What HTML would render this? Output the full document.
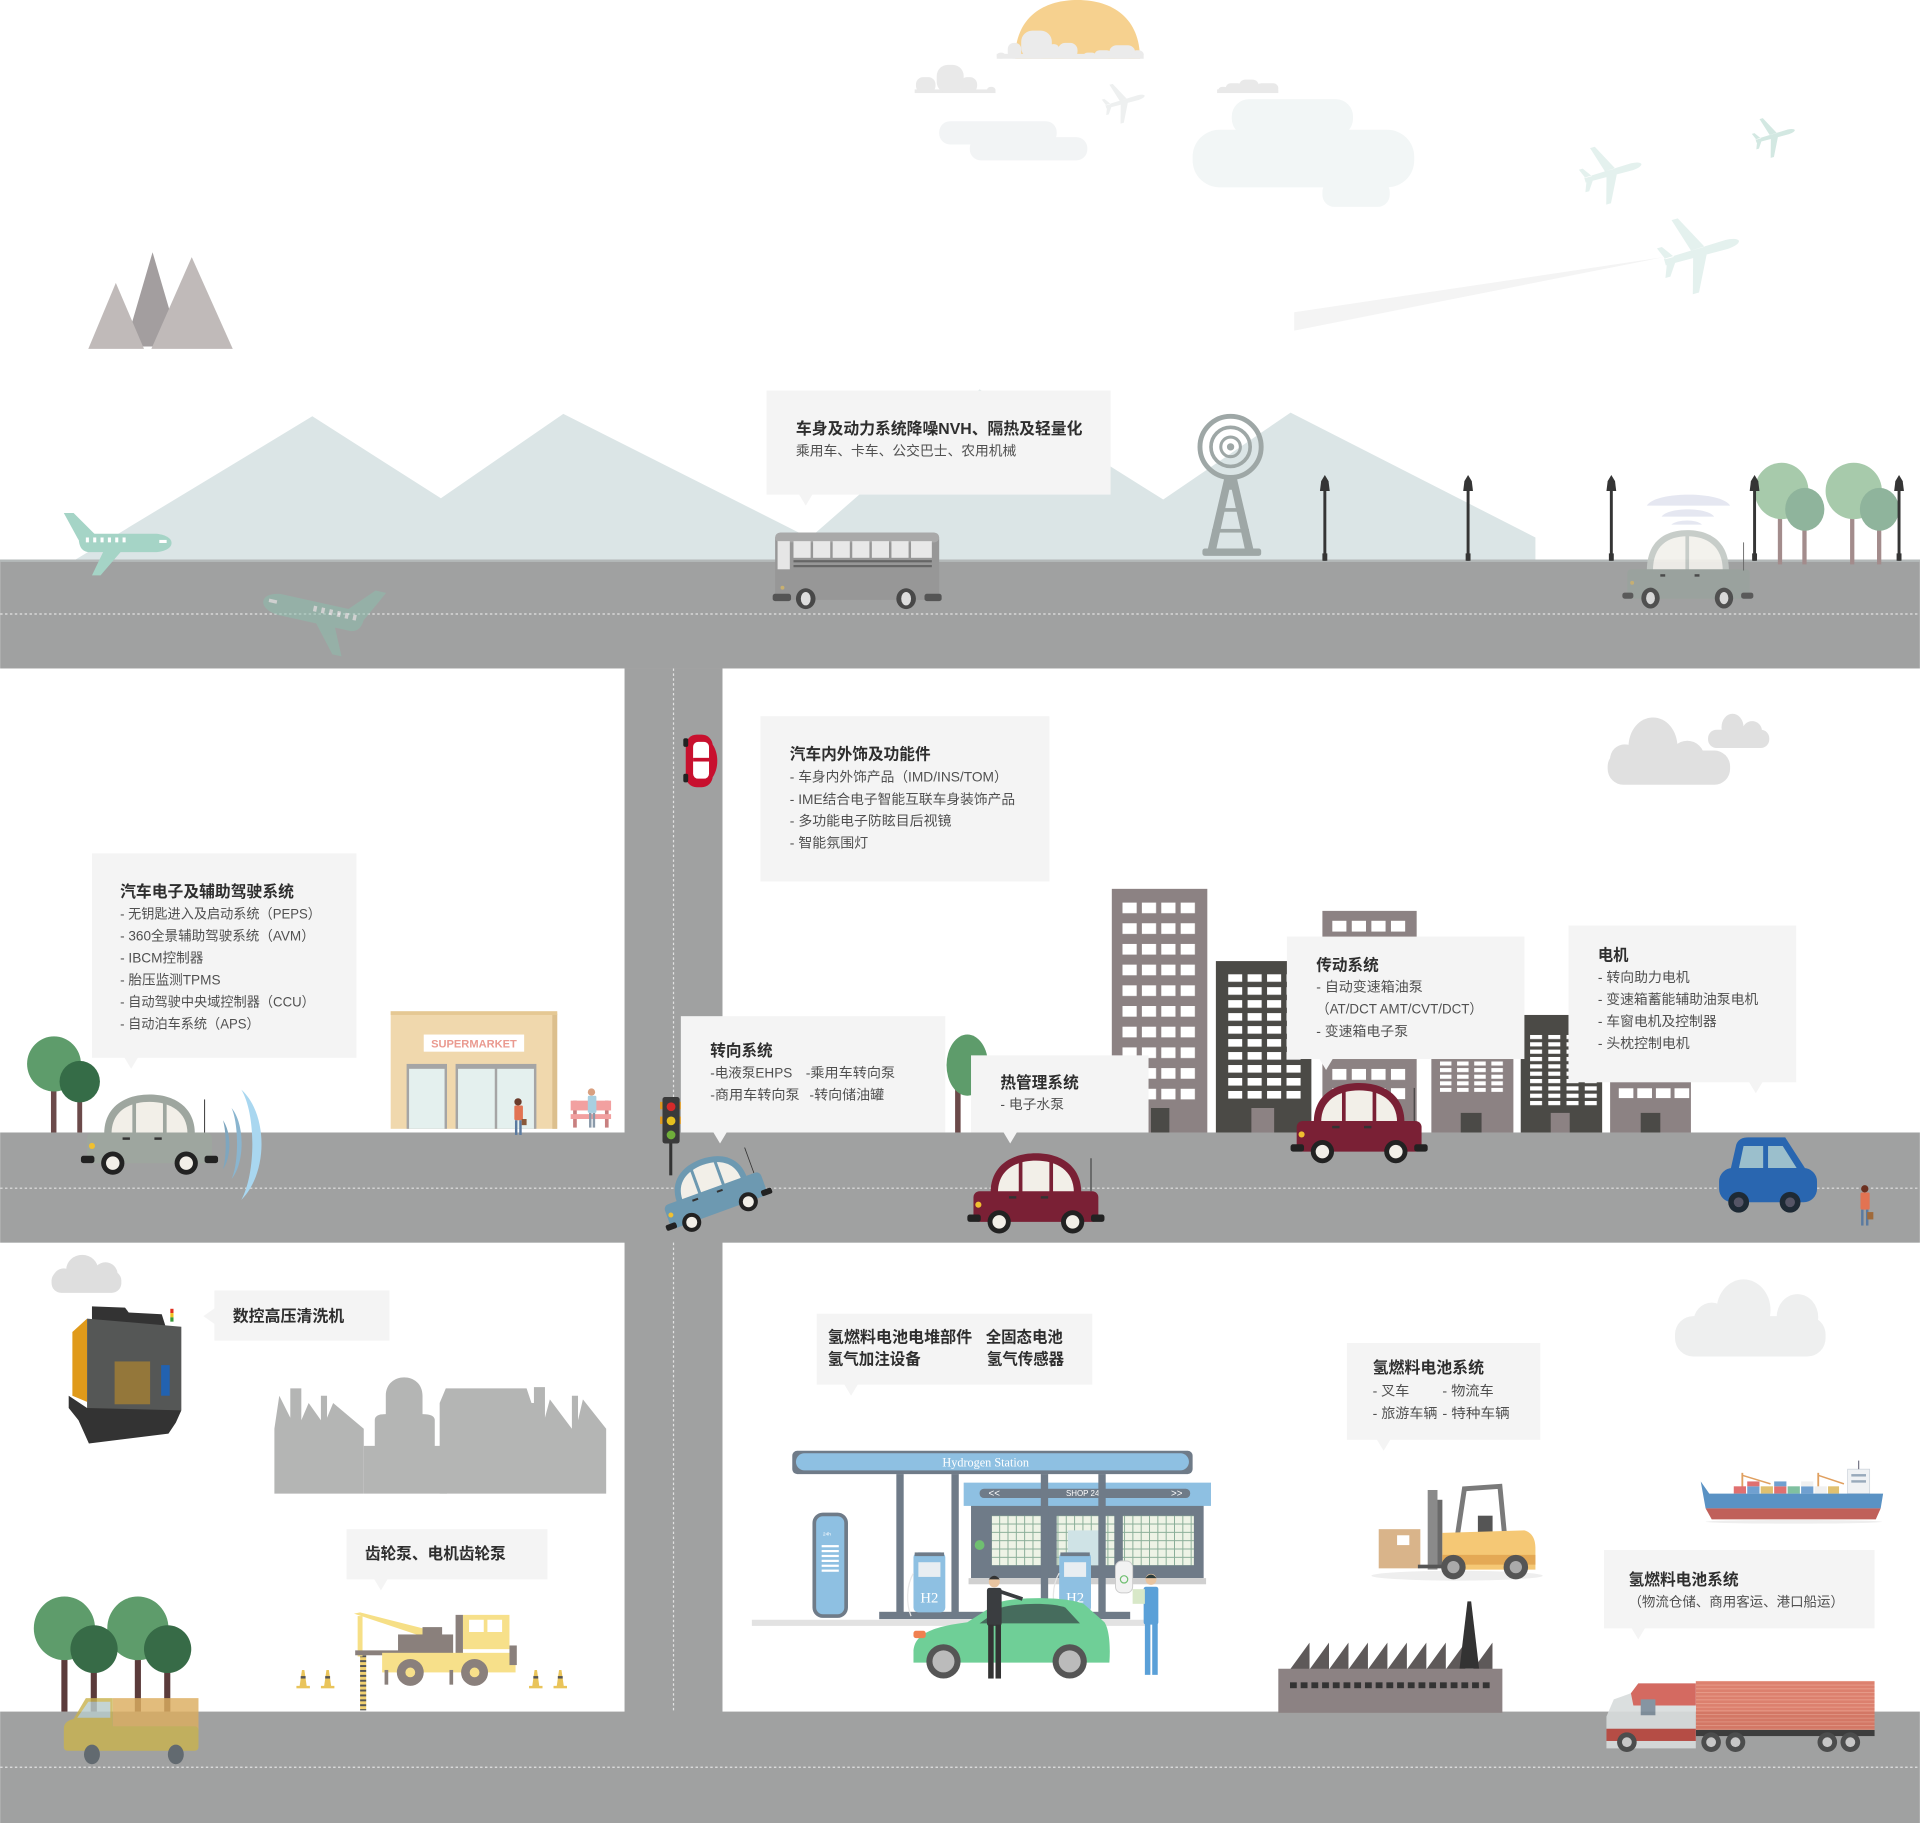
<!DOCTYPE html>
<html><head><meta charset="utf-8"><style>
html,body{margin:0;padding:0;background:#fff;overflow:hidden;}
svg{display:block;}
text{font-family:"Liberation Sans","Noto Sans CJK SC",sans-serif;}
.t{font-size:13px;font-weight:bold;fill:#2e2e2e;}
.s{font-size:11.3px;fill:#505050;}
.bx{fill:#f4f4f4;}
</style></head><body>
<svg width="1920" height="1823" viewBox="0 0 1568 1489" xmlns="http://www.w3.org/2000/svg" xmlns:xlink="http://www.w3.org/1999/xlink">
<defs>
 <path id="pl" d="M-28,-2.6 L22,-3.6 Q31,-3 32,0 Q31,3 22,3.6 L-28,2.6 Z M5,-3 L-9,-30 L-14,-30 L-6,-3 Z M5,3 L-9,30 L-14,30 L-6,3 Z M-20,-2 L-27,-12 L-31,-12 L-27,-2 Z M-20,2 L-27,12 L-31,12 L-27,2 Z"/>
 <g id="sideplane">
  <path d="M64,436 L128,436 C136,437 140,440 140,443.5 C140,447 136,450 128,451 L72,451 C66,450 64,446 64,436 Z"/>
  <polygon points="52,419 60,419 78,437 64,441"/>
  <polygon points="85,449 100,449 82,470 75,470"/>
  <g fill="#fff"><rect x="70" y="439" width="2.5" height="4"/><rect x="76" y="439" width="2.5" height="4"/><rect x="82" y="439" width="2.5" height="4"/><rect x="88" y="439" width="2.5" height="4"/><rect x="94" y="439" width="2.5" height="4"/><rect x="100" y="439" width="2.5" height="4"/><rect x="130" y="441" width="6" height="2.5"/></g>
 </g>
 <g id="car">
  <path d="M-37,-30 C-37,-52 -20,-62 0,-62 C20,-62 37,-52 37,-30 Z" fill="currentColor"/>
  <path d="M-31,-30 C-31,-48 -17,-56 0,-56 C17,-56 31,-48 31,-30 Z" fill="#f2efe8"/>
  <rect x="-14" y="-57" width="3" height="27" fill="currentColor"/>
  <rect x="11" y="-57" width="3" height="27" fill="currentColor"/>
  <rect x="-51" y="-31" width="102" height="25" rx="5" fill="currentColor"/>
  <rect x="-22" y="-27" width="6" height="2" fill="#333"/>
  <rect x="4" y="-27" width="6" height="2" fill="#333"/>
  <circle cx="-47" cy="-20" r="2.5" fill="#f0c030"/>
  <line x1="45" y1="-58" x2="45" y2="-31" stroke="#333" stroke-width="0.8"/>
  <rect x="-56" y="-12" width="11" height="6" rx="2" fill="#222"/>
  <rect x="45" y="-12" width="11" height="6" rx="2" fill="#222"/>
  <circle cx="-30" cy="-6" r="9.5" fill="#222"/>
  <circle cx="-30" cy="-6" r="5.5" fill="#f2efe8"/>
  <circle cx="30" cy="-6" r="9.5" fill="#222"/>
  <circle cx="30" cy="-6" r="5.5" fill="#f2efe8"/>
 </g>
 <pattern id="w1" x="916.7" y="737.2" width="15.85" height="16.9" patternUnits="userSpaceOnUse"><rect width="11.6" height="8.7" fill="#fff"/></pattern>
 <pattern id="w2" x="1003" y="795.7" width="15.9" height="10.6" patternUnits="userSpaceOnUse"><rect width="11.5" height="6.2" fill="#fff"/></pattern>
 <pattern id="w3" x="1088" y="752" width="16" height="15.8" patternUnits="userSpaceOnUse"><rect width="11.6" height="9" fill="#fff"/></pattern>
 <pattern id="w3b" x="1088" y="873" width="16" height="15.8" patternUnits="userSpaceOnUse"><rect width="11.6" height="9" fill="#fff"/></pattern>
 <pattern id="w4" x="1176" y="867" width="14" height="5.4" patternUnits="userSpaceOnUse"><rect width="9.4" height="3.3" fill="#fff"/></pattern>
 <pattern id="w5" x="1249.6" y="845.3" width="14.9" height="6" patternUnits="userSpaceOnUse"><rect width="9.8" height="3.4" fill="#fff"/></pattern>
 <pattern id="w6" x="1322" y="888.8" width="15.2" height="20" patternUnits="userSpaceOnUse"><rect width="12" height="8.2" fill="#fff"/></pattern>
 <pattern id="wf" x="1053.5" y="1374" width="8.75" height="10" patternUnits="userSpaceOnUse"><rect width="5.6" height="5" fill="#333"/></pattern>
 <pattern id="wg" x="0" y="0" width="6.8" height="6.8" patternUnits="userSpaceOnUse"><rect x="0.8" y="0.8" width="6" height="6" fill="#eef3e6"/></pattern>
 <pattern id="drill" x="0" y="0" width="5" height="4" patternUnits="userSpaceOnUse"><rect width="5" height="4" fill="#f0d070"/><rect width="5" height="1.6" fill="#555"/></pattern>
 <pattern id="cont" x="0" y="1373" width="10" height="3" patternUnits="userSpaceOnUse"><rect width="10" height="3" fill="#d9735f"/><rect width="10" height="0.8" fill="#e5917d"/></pattern>
</defs>

<rect width="1568" height="1489" fill="#fff"/>

<!-- ===== SKY ===== -->
<path d="M829,48 C829,15 851,0 880,0 C909,0 931,15 931,48 Z" fill="#f6d18f"/>
<g fill="#ebebeb">
 <rect x="814" y="44" width="120" height="4"/>
 <rect x="814" y="43" width="7" height="5" rx="3"/>
 <rect x="823" y="35" width="11" height="13" rx="5"/>
 <rect x="834" y="25" width="25" height="23" rx="9"/>
 <rect x="856" y="36" width="9" height="12" rx="4"/>
 <rect x="864" y="35" width="16" height="13" rx="6"/>
 <rect x="885" y="43" width="10" height="5" rx="3"/>
 <rect x="894" y="41" width="14" height="7" rx="4"/>
 <rect x="906" y="37" width="21" height="11" rx="6"/>
 <rect x="924" y="41" width="10" height="7" rx="4"/>
</g>
<g fill="#e9e9e9">
 <rect x="747" y="73" width="66" height="3"/>
 <rect x="748" y="63" width="16" height="13" rx="6"/>
 <rect x="765" y="53" width="22" height="23" rx="9"/>
 <rect x="784" y="63" width="14" height="13" rx="6"/>
 <rect x="806" y="71" width="7" height="5" rx="3"/>
 <rect x="994" y="73" width="50" height="3"/>
 <rect x="995" y="71" width="8" height="5" rx="3"/>
 <rect x="1001" y="68" width="14" height="8" rx="4"/>
 <rect x="1012" y="65" width="16" height="11" rx="5"/>
 <rect x="1026" y="68" width="18" height="8" rx="4"/>
</g>
<g fill="#f2f4f5">
 <rect x="767" y="99" width="96" height="19" rx="9"/>
 <rect x="792" y="112" width="96" height="19" rx="9"/>
</g>
<g fill="#f2f6f6">
 <rect x="1006" y="81" width="99" height="30" rx="14"/>
 <rect x="974" y="106" width="181" height="47" rx="22"/>
 <rect x="1080" y="147" width="55" height="22" rx="10"/>
</g>
<polygon points="1057,255 1359,210 1057,270" fill="#f4f4f4"/>
<use xlink:href="#pl" href="#pl" transform="translate(1388,206) rotate(-16) scale(1.05)" fill="#e4f1ee"/>
<use xlink:href="#pl" href="#pl" transform="translate(1316,141) rotate(-16) scale(0.8)" fill="#e4f1ee"/>
<use xlink:href="#pl" href="#pl" transform="translate(1449,111) rotate(-16) scale(0.55)" fill="#d3e8e2"/>
<use xlink:href="#pl" href="#pl" transform="translate(918,83) rotate(-16) scale(0.55)" fill="#eef0f0"/>

<!-- gray peaks -->
<polygon points="102,283 124.5,206 147,283" fill="#a39e9f"/>
<polygon points="72,285 94.5,231 117.5,285" fill="#c0bab9"/>
<polygon points="123.5,285 156.5,210 190,285" fill="#c0bab9"/>

<!-- background mountains -->
<polygon points="60,458 255,340 360,407 460,338 698,458" fill="#dbe5e6"/>
<polygon points="640,458 800,318 907,381 950,408 1054,337 1254,439 1254,458" fill="#dbe5e6"/>

<!-- ===== ROADS ===== -->
<g fill="#a0a1a1">
 <rect x="0" y="457" width="1568" height="89"/>
 <rect x="510" y="546" width="80" height="853"/>
 <rect x="0" y="925" width="1568" height="90"/>
 <rect x="0" y="1398" width="1568" height="91"/>
</g>
<rect x="0" y="457" width="1568" height="2" fill="#b3b8b8"/>
<g stroke="#e2e2e2" stroke-width="1" stroke-dasharray="2 2" fill="none">
 <line x1="0" y1="501.5" x2="1568" y2="501.5"/>
 <line x1="0" y1="970.5" x2="1568" y2="970.5"/>
 <line x1="0" y1="1443.5" x2="1568" y2="1443.5"/>
 <line x1="550" y1="546" x2="550" y2="925"/>
 <line x1="550" y1="1015" x2="550" y2="1398"/>
</g>

<!-- ===== TOP ROAD OBJECTS ===== -->
<use xlink:href="#sideplane" href="#sideplane" fill="#a5d4c6"/>
<use xlink:href="#sideplane" href="#sideplane" transform="translate(262,503) scale(-1.1,1.15) rotate(-12) translate(-96,-445)" fill="#8cc0ae" opacity="0.5"/>

<!-- bus -->
<g>
 <rect x="633" y="435" width="134" height="55" rx="5" fill="#979797"/>
 <rect x="633" y="435" width="134" height="8" rx="4" fill="#a9a9a9"/>
 <rect x="635" y="442" width="10" height="23" fill="#e6e6e6"/>
 <g fill="#e8e8e8">
  <rect x="648" y="442" width="14" height="13.6"/><rect x="664" y="442" width="14" height="13.6"/><rect x="680" y="442" width="14" height="13.6"/><rect x="696" y="442" width="14" height="13.6"/><rect x="712" y="442" width="14" height="13.6"/><rect x="728" y="442" width="14" height="13.6"/><rect x="744" y="442" width="17" height="13.6"/>
 </g>
 <rect x="648" y="457.5" width="113" height="1.8" fill="#666"/>
 <rect x="648" y="461.5" width="113" height="1.8" fill="#666"/>
 <circle cx="639" cy="480" r="1.6" fill="#c8b070"/>
 <rect x="631" y="485" width="15" height="6" rx="2" fill="#555"/>
 <rect x="755" y="485" width="14" height="6" rx="2" fill="#555"/>
 <ellipse cx="658" cy="489" rx="8" ry="8.5" fill="#484848"/><ellipse cx="658" cy="489" rx="4" ry="5.5" fill="#ddd"/>
 <ellipse cx="740" cy="489" rx="8" ry="8.5" fill="#484848"/><ellipse cx="740" cy="489" rx="4" ry="5.5" fill="#ddd"/>
</g>

<!-- radio tower -->
<g fill="none" stroke="#9ea7a6">
 <circle cx="1005" cy="365" r="25" stroke-width="4"/>
 <circle cx="1005" cy="365" r="16" stroke-width="3"/>
 <circle cx="1005" cy="365" r="8" stroke-width="2.5"/>
</g>
<g fill="#9ea7a6">
 <circle cx="1005" cy="365" r="3"/>
 <polygon points="1000,390 1010,390 1024,450 1017,450 1006,400 1004,400 993,450 986,450"/>
 <rect x="995" y="415" width="20" height="3"/>
 <rect x="990" y="432" width="30" height="3"/>
 <rect x="982" y="448" width="48" height="6" rx="2"/>
</g>

<!-- right trees (faded) -->
<g fill="#a38c8c">
 <rect x="1452" y="420" width="3.5" height="41"/><rect x="1472" y="428" width="3.5" height="33"/>
 <rect x="1511" y="420" width="3.5" height="41"/><rect x="1533" y="428" width="3.5" height="33"/>
</g>
<ellipse cx="1455" cy="401" rx="22" ry="23" fill="#a7caab"/>
<ellipse cx="1474" cy="416" rx="16" ry="17.5" fill="#8fb49c"/>
<ellipse cx="1514" cy="401" rx="23" ry="23" fill="#a7caab"/>
<ellipse cx="1535" cy="416" rx="16" ry="17.5" fill="#8fb49c"/>

<!-- lamps -->
<g fill="#353535">
 <rect x="1080.8" y="398" width="2.4" height="60"/><path d="M1078,401 L1086,401 L1085,393 L1082,388 L1079,393 Z"/><rect x="1080" y="452" width="4" height="6"/>
 <rect x="1197.8" y="398" width="2.4" height="60"/><path d="M1195,401 L1203,401 L1202,393 L1199,388 L1196,393 Z"/><rect x="1197" y="452" width="4" height="6"/>
 <rect x="1314.8" y="398" width="2.4" height="60"/><path d="M1312,401 L1320,401 L1319,393 L1316,388 L1313,393 Z"/><rect x="1314" y="452" width="4" height="6"/>
 <rect x="1431.8" y="398" width="2.4" height="60"/><path d="M1429,401 L1437,401 L1436,393 L1433,388 L1430,393 Z"/><rect x="1431" y="452" width="4" height="6"/>
 <rect x="1549.8" y="398" width="2.4" height="60"/><path d="M1547,401 L1555,401 L1554,393 L1551,388 L1548,393 Z"/><rect x="1549" y="452" width="4" height="6"/>
</g>

<!-- right faded car -->
<g opacity="0.92">
 <path d="M1345,413 C1352,401 1406,401 1413,413 Z" fill="#e3e5f0"/>
 <path d="M1357,422 C1362,414 1395,414 1400,422 Z" fill="#e3e5f0"/>
 <path d="M1365,428.5 C1370,424 1386,424 1390,428.5 Z" fill="#e3e5f0"/>
 <path d="M1345,466 C1345,442 1360,433 1378,433 C1396,433 1412,442 1412,466 Z" fill="#c3c9c5"/>
 <path d="M1350,466 C1350,446 1362,438 1378,438 C1394,438 1407,446 1407,466 Z" fill="#f3f1ec"/>
 <rect x="1376.5" y="437" width="3" height="29" fill="#c3c9c5"/>
 <rect x="1329" y="465" width="100" height="24" rx="3" fill="#9aa39e"/>
 <line x1="1424" y1="443" x2="1424" y2="466" stroke="#666" stroke-width="0.8"/>
 <circle cx="1333" cy="476" r="1.6" fill="#c9b070"/>
 <rect x="1356" y="469" width="4" height="2" fill="#444"/><rect x="1384" y="469" width="4" height="2" fill="#444"/>
 <rect x="1325" y="484" width="9" height="5" rx="2" fill="#555"/>
 <rect x="1422" y="484" width="10" height="5" rx="2" fill="#555"/>
 <ellipse cx="1348" cy="488.5" rx="7.5" ry="8.5" fill="#4a4a4a"/><ellipse cx="1348" cy="488.5" rx="3.6" ry="5" fill="#ddd"/>
 <ellipse cx="1408" cy="488.5" rx="7.5" ry="8.5" fill="#4a4a4a"/><ellipse cx="1408" cy="488.5" rx="3.6" ry="5" fill="#ddd"/>
</g>

<!-- ===== MIDDLE SECTION ===== -->
<!-- red top car -->
<g>
 <rect x="560" y="600" width="22" height="43" rx="9" fill="#c8102e"/>
 <path d="M576,603 C589,609 589,634 576,640 Z" fill="#c8102e"/>
 <rect x="566" y="606" width="13" height="30" rx="4" fill="#fff"/>
 <rect x="566" y="619" width="13" height="3" fill="#c8102e"/>
 <rect x="558" y="603" width="4" height="7" rx="1.5" fill="#222"/>
 <rect x="558" y="632" width="4" height="7" rx="1.5" fill="#222"/>
</g>

<!-- gray cloud -->
<g fill="#e0e0e0">
 <rect x="1313" y="613" width="100" height="28" rx="13"/>
 <ellipse cx="1350" cy="610" rx="20" ry="24"/>
 <ellipse cx="1378" cy="619" rx="14" ry="14"/>
 <ellipse cx="1327" cy="620" rx="12" ry="12"/>
 <rect x="1395" y="596" width="50" height="15" rx="7"/>
 <ellipse cx="1415" cy="594" rx="9" ry="11"/>
 <ellipse cx="1431" cy="597" rx="8" ry="8"/>
</g>

<!-- left trees -->
<rect x="41.5" y="885" width="4.5" height="40" fill="#6b4a4a"/>
<rect x="63" y="895" width="4" height="30" fill="#6b4a4a"/>
<ellipse cx="44" cy="869" rx="22" ry="22.5" fill="#5e9c6b"/>
<ellipse cx="65" cy="883.5" rx="16.5" ry="17" fill="#356c47"/>

<!-- left gray car + waves -->
<use xlink:href="#car" href="#car" transform="translate(122,956)" style="color:#9ea69f"/>
<path d="M197,890 C219,910 219,958 197,980 C209,958 209,910 197,890 Z" fill="#a9d7f0"/>
<path d="M189,905 C200,918 200,950 189,963 C195,950 195,918 189,905 Z" fill="#8ab5cf"/>
<path d="M182,915 C189,925 189,945 182,955 C185,945 185,925 182,915 Z" fill="#7ea6bf"/>

<!-- supermarket -->
<rect x="319" y="826" width="136" height="96" fill="#f0d8ad"/>
<rect x="451" y="828" width="4" height="94" fill="#dcbf8d"/>
<rect x="319" y="826" width="136" height="3" fill="#e5c893"/>
<rect x="346" y="845" width="82" height="14" fill="#fff"/>
<text x="387" y="855.5" text-anchor="middle" style="font-size:9px;font-weight:bold;fill:#ea9a90;" textLength="70" lengthAdjust="spacingAndGlyphs">SUPERMARKET</text>
<rect x="332" y="869" width="33" height="53" fill="#a5a5a5"/>
<rect x="334" y="873" width="29" height="49" fill="#e4f0ee"/>
<rect x="372" y="869" width="66" height="53" fill="#a5a5a5"/>
<rect x="374" y="873" width="30" height="49" fill="#e4f0ee"/>
<rect x="406" y="873" width="30" height="49" fill="#e4f0ee"/>
<!-- person at door -->
<circle cx="423" cy="900" r="3" fill="#6b3b2b"/>
<rect x="420" y="903" width="7" height="12" rx="1" fill="#e27352"/>
<rect x="420.5" y="915" width="2" height="12" fill="#5a7aa0"/><rect x="424" y="915" width="2" height="12" fill="#5a7aa0"/>
<rect x="426" y="914" width="4" height="5" fill="#8a5a3a"/>
<!-- bench -->
<rect x="468" y="899" width="3" height="22" fill="#c88080"/><rect x="494" y="899" width="3" height="22" fill="#c88080"/>
<rect x="466" y="899" width="33" height="8" fill="#f2a0a0"/>
<rect x="466" y="910" width="33" height="4" fill="#f2a0a0"/>
<circle cx="483" cy="892" r="3" fill="#d9a080"/>
<rect x="480" y="895" width="7" height="14" rx="1" fill="#a8cfe0"/>
<rect x="481" y="909" width="2" height="12" fill="#8a9aaa"/><rect x="484" y="909" width="2" height="12" fill="#8a9aaa"/>

<!-- traffic light -->
<rect x="546.5" y="932" width="2.5" height="28" fill="#333"/>
<rect x="539" y="900" width="3" height="6" fill="#e09a20"/><rect x="554" y="900" width="3" height="6" fill="#e09a20"/>
<rect x="539" y="912" width="3" height="6" fill="#e09a20"/><rect x="554" y="912" width="3" height="6" fill="#e09a20"/>
<rect x="541" y="896" width="14" height="38" rx="2" fill="#3a3a3a"/>
<circle cx="548" cy="904" r="3.6" fill="#d42a2a"/>
<circle cx="548" cy="915.5" r="3.6" fill="#e6c01e"/>
<circle cx="548" cy="927" r="3.6" fill="#6fae3a"/>

<!-- tilted blue car -->
<use xlink:href="#car" href="#car" transform="translate(588,990) rotate(-20) scale(0.82) translate(0,6)" style="color:#6d99b1"/>

<!-- tree behind thermal box -->
<rect x="780" y="878" width="4.5" height="47" fill="#6b4a4a"/>
<ellipse cx="790" cy="870" rx="17" ry="25" fill="#5e9c6b"/>

<!-- maroon middle car -->
<use xlink:href="#car" href="#car" transform="translate(846,1004)" style="color:#7a2035"/>

<!-- buildings -->
<rect x="908" y="726" width="78" height="199" fill="#8c8283"/>
<rect x="916.7" y="737.2" width="60" height="161" fill="url(#w1)"/>
<rect x="940" y="905" width="15" height="20" fill="#4b4a47"/>
<rect x="993" y="785" width="78" height="140" fill="#4b4a46"/>
<rect x="1003" y="795.7" width="60" height="103" fill="url(#w2)"/>
<rect x="1022" y="905" width="18.6" height="20" fill="#8c8283"/>
<rect x="1080" y="744" width="77" height="181" fill="#8c8283"/>
<rect x="1088" y="752" width="60" height="9" fill="url(#w3)"/>
<rect x="1088" y="873" width="60" height="25" fill="url(#w3b)"/>
<rect x="1169" y="860" width="67" height="65" fill="#8c8283"/>
<rect x="1176" y="867" width="52" height="25" fill="url(#w4)"/>
<rect x="1193" y="909" width="17" height="16" fill="#4b4a47"/>
<rect x="1242" y="829" width="66.5" height="96" fill="#4b4a46"/>
<rect x="1249.6" y="845.3" width="55" height="58" fill="url(#w5)"/>
<rect x="1266.5" y="909" width="15.5" height="16" fill="#8c8283"/>
<rect x="1315" y="880" width="66" height="45" fill="#8c8283"/>
<rect x="1322" y="888.8" width="58" height="8.2" fill="url(#w6)"/>
<rect x="1340" y="909" width="16" height="16" fill="#4b4a47"/>

<!-- maroon right car -->
<use xlink:href="#car" href="#car" transform="translate(1110,946.6)" style="color:#7a2035"/>

<!-- blue hatchback -->
<g>
 <path d="M1413,957 L1418,935 Q1420,929 1428,929 L1458,929 L1476,957 Z" fill="#2966b0"/>
 <path d="M1420,955 L1424,936 L1440,936 L1440,955 Z" fill="#9bbfcc"/>
 <path d="M1444,936 L1456,936 L1468,955 L1444,955 Z" fill="#9bbfcc"/>
 <rect x="1404" y="954" width="80" height="28" rx="11" fill="#2966b0"/>
 <circle cx="1420" cy="982" r="8.5" fill="#1e2a35"/><circle cx="1420" cy="982" r="4" fill="#556"/>
 <circle cx="1462" cy="982" r="8.5" fill="#1e2a35"/><circle cx="1462" cy="982" r="4" fill="#556"/>
</g>
<!-- right person -->
<circle cx="1523" cy="971" r="3" fill="#6b3020"/>
<rect x="1519.5" y="974" width="7.5" height="14" rx="1" fill="#e27352"/>
<rect x="1520" y="988" width="2" height="13" fill="#5a7aa0"/><rect x="1524" y="988" width="2" height="13" fill="#5a7aa0"/>
<rect x="1525" y="990" width="5" height="6" fill="#a06a3a"/>

<!-- ===== BOTTOM LEFT ===== -->
<g fill="#dedede">
 <rect x="42" y="1038" width="57" height="18" rx="8"/>
 <ellipse cx="67" cy="1037" rx="13" ry="12"/>
 <ellipse cx="86" cy="1041" rx="10" ry="10"/>
 <ellipse cx="52" cy="1045" rx="9" ry="9"/>
</g>
<!-- CNC -->
<polygon points="75,1067 102,1068 105,1072 132,1073.5 135,1083 75,1083" fill="#333"/>
<polygon points="59,1088 71,1077 71,1145 59,1140" fill="#e09a1a"/>
<polygon points="71,1077 148,1083.7 148,1152 71,1156.5" fill="#555756"/>
<rect x="93.5" y="1112" width="29" height="35" fill="#94773a"/>
<rect x="131.5" y="1115" width="7" height="25" fill="#2262b0"/>
<polygon points="56,1140 71,1150 148,1152 143.5,1162 137.5,1171 72.5,1179 64,1160 56,1150" fill="#333"/>
<rect x="139" y="1069" width="2.6" height="3.5" fill="#e03020"/>
<rect x="139" y="1072.5" width="2.6" height="3.5" fill="#f0c020"/>
<rect x="139" y="1076" width="2.6" height="3.5" fill="#3a9a3a"/>
<!-- factory silhouette -->
<g fill="#b4b5b4">
 <polygon points="224,1220 224,1167 228,1140 237,1158 237,1134 246,1134 246,1160 252,1146 262,1160 262,1140 267,1140 267,1158 272,1146 297,1167 297,1220"/>
 <path d="M297,1220 L297,1181 L306,1181 L306,1160 Q306,1155 315,1155 L315,1140 C315,1120 345,1120 345,1140 L345,1155 Q355,1155 355,1160 L355,1181 L365,1181 L365,1220 Z"/>
 <polygon points="359,1220 359,1146 364,1134 430,1134 434,1146 436,1146 436,1133 445,1133 445,1158 449,1143 467,1167 467,1140 472,1140 472,1160 476,1143 495,1167 495,1220"/>
</g>
<!-- trees -->
<g fill="#5b3b3b">
 <rect x="50" y="1340" width="5" height="58"/><rect x="74" y="1350" width="5" height="48"/>
 <rect x="110" y="1340" width="5" height="58"/><rect x="134" y="1350" width="5" height="48"/>
</g>
<ellipse cx="52.5" cy="1330" rx="25" ry="26" fill="#5e9c6b"/>
<ellipse cx="112.5" cy="1330" rx="25" ry="26" fill="#5e9c6b"/>
<ellipse cx="76.7" cy="1347" rx="19.3" ry="19.5" fill="#376b47"/>
<ellipse cx="136.8" cy="1347" rx="19.3" ry="19.5" fill="#376b47"/>
<!-- yellow truck -->
<g opacity="0.82">
 <rect x="92" y="1387" width="70" height="32" fill="#dcae60"/>
 <path d="M60,1404 L70,1387 L92,1387 L92,1412 L52,1412 Q52,1406 60,1404 Z" fill="#c9b350"/>
 <path d="M63,1403 L72,1390 L90,1390 L90,1403 Z" fill="#b8cbcb"/>
 <rect x="52" y="1410" width="110" height="20" rx="3" fill="#c9b350"/>
 <ellipse cx="75" cy="1433" rx="6.5" ry="8" fill="#555e66"/>
 <ellipse cx="143.5" cy="1433" rx="6.5" ry="8" fill="#555e66"/>
</g>
<!-- crane truck -->
<rect x="294" y="1352" width="5" height="45" fill="url(#drill)"/>
<polygon points="289,1318 294,1317 357,1333 355,1340" fill="#f6df86"/>
<rect x="292" y="1320" width="4" height="33" fill="#f6df86"/>
<rect x="290" y="1348" width="40" height="4" fill="#8a807c"/>
<rect x="325" y="1335" width="45" height="16" fill="#8a807c"/>
<rect x="345" y="1329" width="16" height="8" fill="#8a807c"/>
<rect x="378" y="1319" width="38" height="28" fill="#f7e08a"/>
<rect x="383" y="1323" width="12" height="10" fill="#fff"/>
<rect x="398" y="1323" width="12" height="10" fill="#fff"/>
<rect x="372" y="1319" width="6" height="32" fill="#8a807c"/>
<rect x="312" y="1350" width="109" height="16" fill="#f7e08a"/>
<rect x="416" y="1344" width="6" height="16" fill="#8a807c"/>
<rect x="314" y="1364" width="3" height="12" fill="#8a807c"/><rect x="367" y="1364" width="3" height="12" fill="#8a807c"/>
<circle cx="335" cy="1366" r="11" fill="#8a807c"/><circle cx="335" cy="1366" r="4" fill="#f7e08a"/>
<circle cx="387.5" cy="1366" r="11" fill="#8a807c"/><circle cx="387.5" cy="1366" r="4" fill="#f7e08a"/>
<!-- cones -->
<g fill="#e9c45a">
 <polygon points="244.5,1378 246.5,1364 248.5,1364 250.5,1378"/><rect x="242" y="1377" width="11" height="2"/>
 <polygon points="264.5,1378 266.5,1364 268.5,1364 270.5,1378"/><rect x="262" y="1377" width="11" height="2"/>
 <polygon points="434.5,1378 436.5,1364 438.5,1364 440.5,1378"/><rect x="432" y="1377" width="11" height="2"/>
 <polygon points="454.5,1378 456.5,1364 458.5,1364 460.5,1378"/><rect x="452" y="1377" width="11" height="2"/>
</g>
<g fill="#555">
 <rect x="245.5" y="1369" width="4" height="2"/><rect x="265.5" y="1369" width="4" height="2"/>
 <rect x="435.5" y="1369" width="4" height="2"/><rect x="455.5" y="1369" width="4" height="2"/>
</g>

<!-- ===== BOTTOM RIGHT ===== -->
<g fill="#eeefef">
 <rect x="1368" y="1075" width="123" height="33" rx="15"/>
 <ellipse cx="1424" cy="1070" rx="22" ry="25"/>
 <ellipse cx="1398" cy="1080" rx="15" ry="16"/>
 <ellipse cx="1468" cy="1076" rx="17" ry="19"/>
</g>

<!-- hydrogen station -->
<rect x="614" y="1323" width="321" height="5" fill="#e2e2e2"/>
<rect x="793" y="1229" width="190" height="60" fill="#6f7b88"/>
<rect x="810" y="1238" width="40.5" height="40.5" fill="#8aae98"/><rect x="810" y="1238" width="40.5" height="40.5" fill="url(#wg)"/>
<rect x="863" y="1238" width="47" height="40.5" fill="#8aae98"/><rect x="863" y="1238" width="47" height="40.5" fill="url(#wg)"/>
<rect x="872" y="1250" width="28" height="28.5" fill="#cfe3e6"/>
<rect x="917" y="1238" width="58" height="40.5" fill="#8aae98"/><rect x="917" y="1238" width="58" height="40.5" fill="url(#wg)"/>
<circle cx="800" cy="1262" r="4" fill="#6fbf70"/>
<rect x="791" y="1289" width="194" height="5" fill="#d0d0d0"/>
<rect x="787" y="1211" width="202" height="19" fill="#8ec0e2"/>
<rect x="800" y="1216" width="172" height="7.5" rx="3.5" fill="#6f7b88"/>
<text x="812" y="1222.5" text-anchor="middle" style="font-size:8px;fill:#fff;">&lt;&lt;</text>
<text x="961" y="1222.5" text-anchor="middle" style="font-size:8px;fill:#fff;">&gt;&gt;</text>
<text x="886" y="1222" text-anchor="middle" style="font-size:6.5px;fill:#fff;">SHOP 24h</text>
<rect x="718" y="1316.5" width="205" height="6" fill="#6f7b88"/>
<g fill="#6f7b88">
 <rect x="732" y="1204" width="6" height="113"/>
 <rect x="777" y="1204" width="6" height="113"/>
 <rect x="850" y="1204" width="6" height="113"/>
 <rect x="897" y="1204" width="6" height="113"/>
</g>
<rect x="647" y="1185" width="327" height="19" rx="4" fill="#6f7b88"/>
<rect x="650" y="1187" width="321" height="14" rx="7" fill="#8ec0e2"/>
<text x="805" y="1198" text-anchor="middle" style="font-family:'Liberation Serif',serif;font-size:10px;fill:#fff;">Hydrogen Station</text>
<!-- kiosk -->
<rect x="665" y="1237" width="26" height="83" rx="7" fill="#8ec0e2" stroke="#6f7b88" stroke-width="3"/>
<g fill="#fff">
 <rect x="671" y="1262" width="14" height="1.8"/><rect x="671" y="1266" width="14" height="1.8"/><rect x="671" y="1270" width="14" height="1.8"/><rect x="671" y="1274" width="14" height="1.8"/><rect x="671" y="1278" width="14" height="1.8"/><rect x="671" y="1282" width="14" height="1.8"/>
</g>
<text x="672" y="1254" style="font-size:4px;fill:#fff;">24h</text>
<!-- pumps -->
<g>
 <rect x="746" y="1268" width="26" height="49" rx="4" fill="#8ec0e2"/>
 <rect x="747" y="1268" width="24" height="3" fill="#6f7b88"/>
 <rect x="750" y="1276" width="18" height="12" fill="#e8eef2"/>
 <text x="759" y="1309" text-anchor="middle" style="font-family:'Liberation Serif',serif;font-size:12px;fill:#fff;">H2</text>
 <path d="M746,1285 C740,1295 740,1310 744,1320" stroke="#e6e6e6" stroke-width="1" fill="none"/>
 <rect x="865" y="1268" width="26" height="49" rx="4" fill="#8ec0e2"/>
 <rect x="866" y="1268" width="24" height="3" fill="#6f7b88"/>
 <rect x="869" y="1276" width="18" height="12" fill="#e8eef2"/>
 <text x="878" y="1309" text-anchor="middle" style="font-family:'Liberation Serif',serif;font-size:12px;fill:#fff;">H2</text>
 <path d="M865,1285 C859,1295 859,1310 863,1320" stroke="#e6e6e6" stroke-width="1" fill="none"/>
</g>
<rect x="911" y="1275" width="14" height="26" rx="5" fill="#f2f2f2" stroke="#cccccc" stroke-width="0.8"/>
<circle cx="918" cy="1290" r="3" fill="none" stroke="#6fbf70" stroke-width="1"/>
<!-- green car -->
<path d="M746,1350 C746,1336 758,1329 790,1325 L815,1309 C830,1304 870,1304 885,1310 L902,1325 C906,1331 907,1345 906,1358 L746,1358 Z" fill="#6fcf97"/>
<path d="M800,1326 L818,1313 C832,1309 860,1309 870,1313 L882,1326 Z" fill="#3f5a52" opacity="0.85"/>
<rect x="746" y="1332" width="10" height="6" rx="2" fill="#f08050"/>
<circle cx="770.5" cy="1357" r="14" fill="#555"/><circle cx="770.5" cy="1357" r="9" fill="#bbb"/>
<circle cx="873.6" cy="1357" r="14" fill="#555"/><circle cx="873.6" cy="1357" r="9" fill="#bbb"/>
<!-- man in suit -->
<circle cx="812" cy="1292" r="4.5" fill="#e8c4a0"/>
<path d="M807.5,1290 Q812,1284 816.5,1290 Z" fill="#333"/>
<rect x="806" y="1297" width="12" height="31" rx="2" fill="#3a3d40"/>
<line x1="817" y1="1300" x2="835" y2="1306" stroke="#3a3d40" stroke-width="3"/>
<rect x="807" y="1327" width="4.5" height="44" fill="#333"/>
<rect x="813" y="1327" width="4.5" height="44" fill="#333"/>
<!-- worker -->
<circle cx="940" cy="1290" r="4.5" fill="#e8c4a0"/>
<path d="M935.5,1289 Q940,1283 944.5,1289 Z" fill="#2a3a3a"/>
<rect x="934" y="1296" width="12" height="31" rx="2" fill="#5aa0d8"/>
<rect x="925" y="1298" width="10" height="12" fill="#d8e8c8"/>
<rect x="935" y="1326" width="4.5" height="42" fill="#5aa0d8"/>
<rect x="941" y="1326" width="4.5" height="42" fill="#5aa0d8"/>

<!-- forklift -->
<ellipse cx="1190" cy="1287" rx="70" ry="4" fill="#eeeeee"/>
<rect x="1126" y="1249" width="34" height="32" fill="#d9b48a"/>
<rect x="1141" y="1254" width="10" height="8" fill="#fff"/>
<rect x="1166" y="1217" width="8" height="65" fill="#8a8a8a"/>
<rect x="1174" y="1225" width="4" height="55" fill="#6a6a6a"/>
<rect x="1158" y="1278" width="22" height="3" fill="#555"/>
<path d="M1190,1256 L1196,1216 L1225,1214 L1229,1256" stroke="#7a7a7a" stroke-width="4" fill="none"/>
<rect x="1207" y="1238" width="12" height="14" fill="#555"/>
<path d="M1178,1252 L1245,1250 C1252,1252 1254,1258 1254,1265 L1254,1282 L1178,1282 Z" fill="#f5c875"/>
<rect x="1178" y="1270" width="76" height="8" fill="#e4a955"/>
<circle cx="1187" cy="1280" r="10" fill="#555"/><circle cx="1187" cy="1280" r="5" fill="#aaa"/>
<circle cx="1238" cy="1280" r="10" fill="#555"/><circle cx="1238" cy="1280" r="5" fill="#aaa"/>

<!-- ship -->
<g>
 <line x1="1423" y1="1203" x2="1423" y2="1218" stroke="#e0a060" stroke-width="1.5"/>
 <line x1="1423" y1="1205" x2="1446" y2="1212" stroke="#e0a060" stroke-width="1.2"/>
 <line x1="1485" y1="1203" x2="1485" y2="1218" stroke="#e0a060" stroke-width="1.5"/>
 <line x1="1485" y1="1205" x2="1506" y2="1212" stroke="#e0a060" stroke-width="1.2"/>
 <rect x="1416" y="1214" width="10" height="6" fill="#e07070"/><rect x="1427" y="1214" width="10" height="6" fill="#70a0d0"/>
 <rect x="1438" y="1214" width="10" height="6" fill="#e0c070"/><rect x="1449" y="1214" width="10" height="6" fill="#e07070"/>
 <rect x="1460" y="1214" width="10" height="6" fill="#80c0a0"/><rect x="1471" y="1214" width="10" height="6" fill="#70a0d0"/>
 <rect x="1482" y="1214" width="10" height="6" fill="#f0f0f0"/><rect x="1493" y="1214" width="9" height="6" fill="#e0c070"/>
 <rect x="1427" y="1210" width="10" height="4" fill="#e07070"/><rect x="1449" y="1210" width="10" height="4" fill="#70a0d0"/>
 <rect x="1471" y="1210" width="10" height="4" fill="#f0f0f0"/>
 <rect x="1509" y="1200" width="18" height="20" fill="#f0f2f4" stroke="#ccd2da" stroke-width="0.6"/>
 <rect x="1512" y="1204" width="12" height="2" fill="#9ab"/>
 <rect x="1512" y="1209" width="12" height="2" fill="#9ab"/>
 <line x1="1518" y1="1193" x2="1518" y2="1200" stroke="#778" stroke-width="1"/>
 <path d="M1389,1210 L1396,1220 L1538,1220 L1536,1232 L1393,1232 Z" fill="#5a92c4"/>
 <path d="M1393,1232 L1536,1232 L1532,1241 L1398,1241 Z" fill="#c0605a"/>
 <ellipse cx="1465" cy="1243" rx="72" ry="1.5" fill="#eeeeee"/>
</g>

<!-- factory bottom -->
<g fill="#5e5959">
 <polygon points="1053.6,1363.5 1069.5,1341.7 1069.5,1363.5"/>
 <polygon points="1069.5,1363.5 1085.4,1341.7 1085.4,1363.5"/>
 <polygon points="1085.4,1363.5 1101.3,1341.7 1101.3,1363.5"/>
 <polygon points="1101.3,1363.5 1117.2,1341.7 1117.2,1363.5"/>
 <polygon points="1117.2,1363.5 1133.1,1341.7 1133.1,1363.5"/>
 <polygon points="1133.1,1363.5 1149,1341.7 1149,1363.5"/>
 <polygon points="1149,1363.5 1164.9,1341.7 1164.9,1363.5"/>
 <polygon points="1164.9,1363.5 1180.8,1341.7 1180.8,1363.5"/>
 <polygon points="1180.8,1363.5 1196.7,1341.7 1196.7,1363.5"/>
 <polygon points="1203,1363.5 1218.9,1341.7 1218.9,1363.5"/>
</g>
<polygon points="1192,1363 1198.5,1308 1201.5,1308 1208,1363" fill="#333"/>
<rect x="1044" y="1363" width="183" height="36" fill="#8c8283"/>
<rect x="1053.5" y="1374" width="165" height="5" fill="url(#wf)"/>

<!-- truck -->
<g opacity="0.9">
 <rect x="1385" y="1373" width="146" height="40" fill="url(#cont)"/>
 <rect x="1385" y="1413" width="146" height="5" fill="#333"/>
 <path d="M1312,1402 L1318,1388 L1332,1383 L1338,1375 L1385,1375 L1385,1428 L1312,1428 Z" fill="#d8dcdc"/>
 <path d="M1332,1383 L1338,1375 L1385,1375 L1385,1393 L1334,1393 Z" fill="#d05a50"/>
 <rect x="1312" y="1412" width="73" height="10" fill="#b8443c"/>
 <rect x="1340" y="1388" width="12" height="13" fill="#7a8a98"/>
 <circle cx="1328.7" cy="1423" r="8" fill="#444"/><circle cx="1328.7" cy="1423" r="4" fill="#ccc"/>
 <circle cx="1397.5" cy="1423" r="8" fill="#444"/><circle cx="1397.5" cy="1423" r="4" fill="#ccc"/>
 <circle cx="1417.4" cy="1423" r="8" fill="#444"/><circle cx="1417.4" cy="1423" r="4" fill="#ccc"/>
 <circle cx="1492.4" cy="1423" r="8" fill="#444"/><circle cx="1492.4" cy="1423" r="4" fill="#ccc"/>
 <circle cx="1511.2" cy="1423" r="8" fill="#444"/><circle cx="1511.2" cy="1423" r="4" fill="#ccc"/>
</g>

<!-- ===== CALLOUT BOXES ===== -->
<!-- 1 -->
<rect class="bx" x="626" y="319" width="281" height="85"/>
<polygon class="bx" points="652,403 664,403 658,413"/>
<text class="t" x="650" y="354.5" textLength="234" lengthAdjust="spacingAndGlyphs">车身及动力系统降噪NVH、隔热及轻量化</text>
<text class="s" x="650" y="372" textLength="180" lengthAdjust="spacingAndGlyphs">乘用车、卡车、公交巴士、农用机械</text>

<!-- 2 -->
<rect class="bx" x="621" y="585" width="236" height="135"/>
<text class="t" x="645" y="620.5" textLength="115" lengthAdjust="spacingAndGlyphs">汽车内外饰及功能件</text>
<text class="s" x="645" y="638.3" textLength="178" lengthAdjust="spacingAndGlyphs">- 车身内外饰产品（IMD/INS/TOM）</text>
<text class="s" x="645" y="656.5" textLength="184" lengthAdjust="spacingAndGlyphs">- IME结合电子智能互联车身装饰产品</text>
<text class="s" x="645" y="674.3" textLength="132" lengthAdjust="spacingAndGlyphs">- 多功能电子防眩目后视镜</text>
<text class="s" x="645" y="692.4" textLength="64" lengthAdjust="spacingAndGlyphs">- 智能氛围灯</text>

<!-- 3 -->
<rect class="bx" x="75" y="697" width="216" height="167"/>
<polygon class="bx" points="101,863 113,863 107,873"/>
<text class="t" x="98" y="732.5" textLength="142" lengthAdjust="spacingAndGlyphs">汽车电子及辅助驾驶系统</text>
<text class="s" x="98" y="750.2" textLength="164" lengthAdjust="spacingAndGlyphs">- 无钥匙进入及启动系统（PEPS）</text>
<text class="s" x="98" y="768.2" textLength="159" lengthAdjust="spacingAndGlyphs">- 360全景辅助驾驶系统（AVM）</text>
<text class="s" x="98" y="786.2" textLength="68" lengthAdjust="spacingAndGlyphs">- IBCM控制器</text>
<text class="s" x="98" y="804.2" textLength="82" lengthAdjust="spacingAndGlyphs">- 胎压监测TPMS</text>
<text class="s" x="98" y="822.2" textLength="159" lengthAdjust="spacingAndGlyphs">- 自动驾驶中央域控制器（CCU）</text>
<text class="s" x="98" y="840.2" textLength="114" lengthAdjust="spacingAndGlyphs">- 自动泊车系统（APS）</text>

<!-- 4 -->
<rect class="bx" x="556" y="830" width="216" height="95"/>
<polygon class="bx" points="582,924 594,924 588,934"/>
<text class="t" x="580" y="862.5" textLength="51" lengthAdjust="spacingAndGlyphs">转向系统</text>
<text class="s" x="580" y="880" textLength="67" lengthAdjust="spacingAndGlyphs">-电液泵EHPS</text>
<text class="s" x="658" y="880" textLength="73" lengthAdjust="spacingAndGlyphs">-乘用车转向泵</text>
<text class="s" x="580" y="898" textLength="73" lengthAdjust="spacingAndGlyphs">-商用车转向泵</text>
<text class="s" x="661" y="898" textLength="61" lengthAdjust="spacingAndGlyphs">-转向储油罐</text>

<!-- 5 -->
<rect class="bx" x="793" y="862" width="145" height="63"/>
<polygon class="bx" points="819,924 831,924 825,934"/>
<text class="t" x="817" y="888.5" textLength="64" lengthAdjust="spacingAndGlyphs">热管理系统</text>
<text class="s" x="817" y="906" textLength="52" lengthAdjust="spacingAndGlyphs">- 电子水泵</text>

<!-- 6 -->
<rect class="bx" x="1051" y="765" width="194" height="100"/>
<polygon class="bx" points="1077,864 1089,864 1083,874"/>
<text class="t" x="1075" y="792.5" textLength="51" lengthAdjust="spacingAndGlyphs">传动系统</text>
<text class="s" x="1075" y="810" textLength="87" lengthAdjust="spacingAndGlyphs">- 自动变速箱油泵</text>
<text class="s" x="1075" y="828" textLength="136" lengthAdjust="spacingAndGlyphs">（AT/DCT AMT/CVT/DCT）</text>
<text class="s" x="1075" y="846" textLength="75" lengthAdjust="spacingAndGlyphs">- 变速箱电子泵</text>

<!-- 7 -->
<rect class="bx" x="1281" y="756" width="186" height="128"/>
<polygon class="bx" points="1428,883 1440,883 1434,893"/>
<text class="t" x="1305" y="784.5" textLength="25" lengthAdjust="spacingAndGlyphs">电机</text>
<text class="s" x="1305" y="802" textLength="75" lengthAdjust="spacingAndGlyphs">- 转向助力电机</text>
<text class="s" x="1305" y="820" textLength="131" lengthAdjust="spacingAndGlyphs">- 变速箱蓄能辅助油泵电机</text>
<text class="s" x="1305" y="838" textLength="97" lengthAdjust="spacingAndGlyphs">- 车窗电机及控制器</text>
<text class="s" x="1305" y="856" textLength="75" lengthAdjust="spacingAndGlyphs">- 头枕控制电机</text>

<!-- 8 -->
<rect class="bx" x="175" y="1054" width="143" height="41"/>
<polygon class="bx" points="176,1068 176,1082 166,1075"/>
<text class="t" x="190" y="1079.5" textLength="91" lengthAdjust="spacingAndGlyphs">数控高压清洗机</text>

<!-- 9 -->
<rect class="bx" x="283" y="1249" width="164" height="41"/>
<polygon class="bx" points="305,1289 317,1289 311,1299"/>
<text class="t" x="298" y="1273.5" textLength="115" lengthAdjust="spacingAndGlyphs">齿轮泵、电机齿轮泵</text>

<!-- 10 -->
<rect class="bx" x="667" y="1073" width="225" height="58"/>
<polygon class="bx" points="689,1130 701,1130 695,1140"/>
<text class="t" x="676" y="1096.5" textLength="118" lengthAdjust="spacingAndGlyphs">氢燃料电池电堆部件</text>
<text class="t" x="805" y="1096.5" textLength="63" lengthAdjust="spacingAndGlyphs">全固态电池</text>
<text class="t" x="676" y="1114.5" textLength="76" lengthAdjust="spacingAndGlyphs">氢气加注设备</text>
<text class="t" x="806" y="1114.5" textLength="63" lengthAdjust="spacingAndGlyphs">氢气传感器</text>

<!-- 11 -->
<rect class="bx" x="1100" y="1097" width="158" height="79"/>
<polygon class="bx" points="1124,1175 1136,1175 1130,1185"/>
<text class="t" x="1121" y="1121.5" textLength="91" lengthAdjust="spacingAndGlyphs">氢燃料电池系统</text>
<text class="s" x="1121" y="1140" textLength="30" lengthAdjust="spacingAndGlyphs">- 叉车</text>
<text class="s" x="1178" y="1140" textLength="42" lengthAdjust="spacingAndGlyphs">- 物流车</text>
<text class="s" x="1121" y="1158" textLength="53" lengthAdjust="spacingAndGlyphs">- 旅游车辆</text>
<text class="s" x="1178" y="1158" textLength="55" lengthAdjust="spacingAndGlyphs">- 特种车辆</text>

<!-- 12 -->
<rect class="bx" x="1310" y="1266" width="221" height="64"/>
<polygon class="bx" points="1332,1329 1344,1329 1338,1339"/>
<text class="t" x="1330" y="1294.5" textLength="90" lengthAdjust="spacingAndGlyphs">氢燃料电池系统</text>
<text class="s" x="1330" y="1312" textLength="176" lengthAdjust="spacingAndGlyphs">（物流仓储、商用客运、港口船运）</text>
</svg>
</body></html>
